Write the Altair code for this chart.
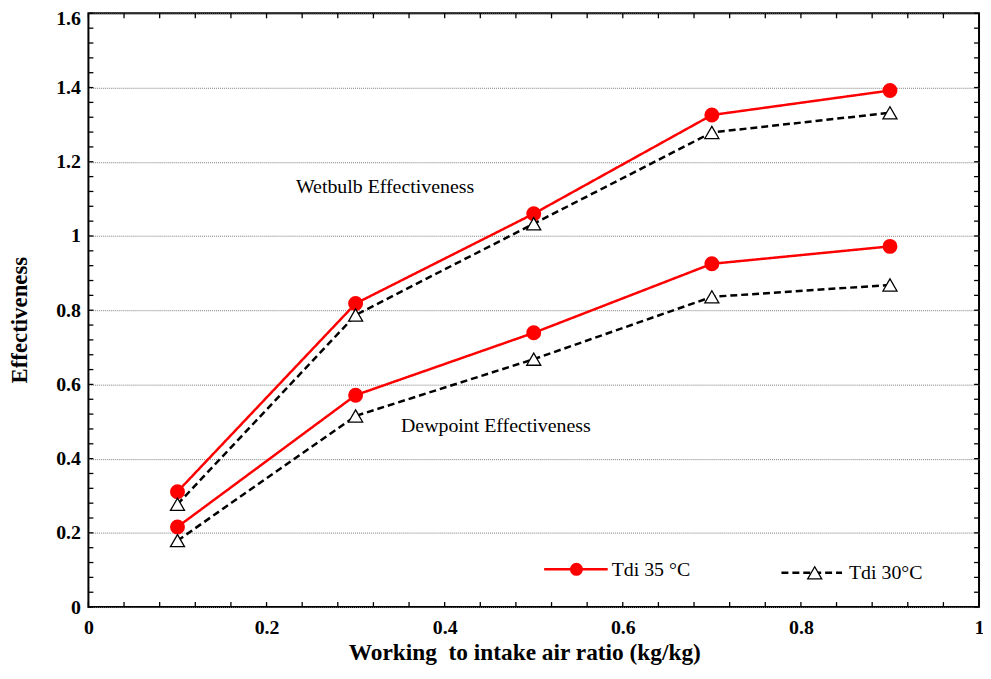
import altair as alt
import pandas as pd

# ---- data ----
ratio = [0.1, 0.3, 0.5, 0.7, 0.9]
wetbulb_35 = [0.311, 0.818, 1.060, 1.326, 1.392]
wetbulb_30 = [0.277, 0.787, 1.033, 1.279, 1.332]
dewpoint_35 = [0.216, 0.571, 0.739, 0.925, 0.972]
dewpoint_30 = [0.179, 0.515, 0.668, 0.836, 0.868]

series_labels = ["Tdi 35 °C", "Tdi 30°C"]
x_ticks_major = [0, 0.2, 0.4, 0.6, 0.8, 1.0]
y_ticks_major = [0, 0.2, 0.4, 0.6, 0.8, 1.0, 1.2, 1.4, 1.6]
x_ticks_minor = [0, 0.04, 0.08, 0.12, 0.16, 0.2, 0.24, 0.28, 0.32, 0.36, 0.4,
                 0.44, 0.48, 0.52, 0.56, 0.6, 0.64, 0.68, 0.72, 0.76, 0.8,
                 0.84, 0.88, 0.92, 0.96, 1.0]
y_ticks_minor = [0, 0.04, 0.08, 0.12, 0.16, 0.2, 0.24, 0.28, 0.32, 0.36, 0.4,
                 0.44, 0.48, 0.52, 0.56, 0.6, 0.64, 0.68, 0.72, 0.76, 0.8,
                 0.84, 0.88, 0.92, 0.96, 1.0, 1.04, 1.08, 1.12, 1.16, 1.2,
                 1.24, 1.28, 1.32, 1.36, 1.4, 1.44, 1.48, 1.52, 1.56, 1.6]

annot_text = ["Wetbulb Effectiveness", "Dewpoint Effectiveness"]
annot_x = [0.233, 0.351]
annot_y = [1.1165, 0.471]

FONT = "Liberation Serif"

rows = []
for grp, s35, s30 in [("wet", wetbulb_35, wetbulb_30), ("dew", dewpoint_35, dewpoint_30)]:
    for xv, yv in zip(ratio, s35):
        rows.append({"x": xv, "y": yv, "series": "35", "grp": grp + "35"})
    for xv, yv in zip(ratio, s30):
        rows.append({"x": xv, "y": yv, "series": "30", "grp": grp + "30"})
df = pd.DataFrame(rows)

xscale = alt.Scale(domain=[0, 1], nice=False, zero=False)
yscale = alt.Scale(domain=[0, 1.6], nice=False, zero=False)

x_axis = alt.Axis(
    values=x_ticks_major, format="~g", grid=False, domain=False, ticks=False, tickSize=0,
    labelFont=FONT, labelFontSize=20, labelFontWeight="bold", labelColor="black",
    labelPadding=11, labelFlush=False,
    title="Working\u00a0 to intake air ratio (kg/kg)", titleFont=FONT, titleFontSize=23.5,
    titleFontWeight="bold", titleColor="black", titleX=439, titleY=53,
    titleAlign="center", titleBaseline="alphabetic",
)
y_axis = alt.Axis(
    values=y_ticks_major, format="~g", grid=True, gridDash=[1, 1], gridColor="#7a7a7a",
    gridWidth=1, domain=False, ticks=False, tickSize=0,
    labelFont=FONT, labelFontSize=20, labelFontWeight="bold", labelColor="black",
    labelPadding=8, labelFlush=False,
    labelOffset={"condition": {"test": "datum.value >= 1.59", "value": 5}, "value": 0},
    title="Effectiveness", titleFont=FONT, titleFontSize=23, titleFontWeight="bold",
    titleColor="black", titleX=-62, titleY=308.5, titleAngle=-90,
    titleAlign="center", titleBaseline="alphabetic",
)

X = alt.X("x:Q", scale=xscale, axis=x_axis)
Y = alt.Y("y:Q", scale=yscale, axis=y_axis)

lines = alt.Chart(df).mark_line(strokeWidth=2.5).encode(
    x=X, y=Y,
    color=alt.Color("series:N", scale=alt.Scale(domain=["35", "30"], range=["#ff0000", "#000000"]), legend=None),
    strokeDash=alt.StrokeDash("series:N", scale=alt.Scale(domain=["35", "30"], range=[[1, 0], [7, 4]]), legend=None),
    detail="grp:N",
)

circles = alt.Chart(df).transform_filter(alt.datum.series == "35").mark_point(
    shape="circle", filled=True, fill="#ff0000", stroke="#ff0000", size=170, opacity=1
).encode(x=X, y=Y)

triangles = alt.Chart(df).transform_filter(alt.datum.series == "30").mark_point(
    shape="triangle-up", filled=False, fill="white", fillOpacity=1, stroke="black",
    strokeWidth=1.3, size=200, opacity=1
).encode(x=X, y=Y)

annot_df = pd.DataFrame({"x": annot_x, "y": annot_y, "t": annot_text})
annots = alt.Chart(annot_df).mark_text(
    align="left", baseline="alphabetic", font=FONT, fontSize=20, color="black"
).encode(x=X, y=Y, text="t:N")

# inward minor ticks on all four sides
yt = pd.DataFrame({"y": y_ticks_minor})
xt = pd.DataFrame({"x": x_ticks_minor})
tick_style = dict(color="black", strokeWidth=1.3)
left_ticks = alt.Chart(yt).mark_rule(**tick_style).encode(
    y=Y, x=alt.value(0), x2=alt.value(5))
right_ticks = alt.Chart(yt).mark_rule(**tick_style).encode(
    y=Y, x=alt.value(892), x2=alt.value(897))
bottom_ticks = alt.Chart(xt).mark_rule(**tick_style).encode(
    x=X, y=alt.value(593), y2=alt.value(598))
top_ticks = alt.Chart(xt).mark_rule(**tick_style).encode(
    x=X, y=alt.value(0), y2=alt.value(5))

# manual legend inside plot
leg1 = pd.DataFrame({"t": [series_labels[0]]})
leg2 = pd.DataFrame({"t": [series_labels[1]]})
leg_line1 = alt.Chart(leg1).mark_rule(color="#ff0000", strokeWidth=2.5).encode(
    x=alt.value(459), x2=alt.value(523), y=alt.value(560))
leg_pt1 = alt.Chart(leg1).mark_point(shape="circle", filled=True, fill="#ff0000", size=170, opacity=1).encode(
    x=alt.value(491.5), y=alt.value(560))
leg_txt1 = alt.Chart(leg1).mark_text(align="left", baseline="alphabetic", font=FONT, fontSize=20, color="black").encode(
    x=alt.value(527), y=alt.value(566.5), text="t:N")
leg_line2 = alt.Chart(leg2).mark_rule(color="black", strokeWidth=2.5, strokeDash=[7, 4]).encode(
    x=alt.value(698), x2=alt.value(759), y=alt.value(563.5))
leg_pt2 = alt.Chart(leg2).mark_point(shape="triangle-up", filled=False, fill="white", fillOpacity=1,
                                     stroke="black", strokeWidth=1.3, size=200, opacity=1).encode(
    x=alt.value(731.5), y=alt.value(563.5))
leg_txt2 = alt.Chart(leg2).mark_text(align="left", baseline="alphabetic", font=FONT, fontSize=20, color="black").encode(
    x=alt.value(766), y=alt.value(570), text="t:N")

chart = alt.layer(
    lines, circles, triangles, annots,
    left_ticks, right_ticks, bottom_ticks, top_ticks,
    leg_line1, leg_pt1, leg_txt1, leg_line2, leg_pt2, leg_txt2,
).properties(
    width=897, height=598,
    autosize=alt.AutoSizeParams(type="none"),
    padding={"left": 81, "top": 3, "right": 4, "bottom": 60},
    background="white",
).configure_view(stroke="black", strokeWidth=2)

chart.save("out.html", embed_options={"renderer": "svg", "actions": False})
